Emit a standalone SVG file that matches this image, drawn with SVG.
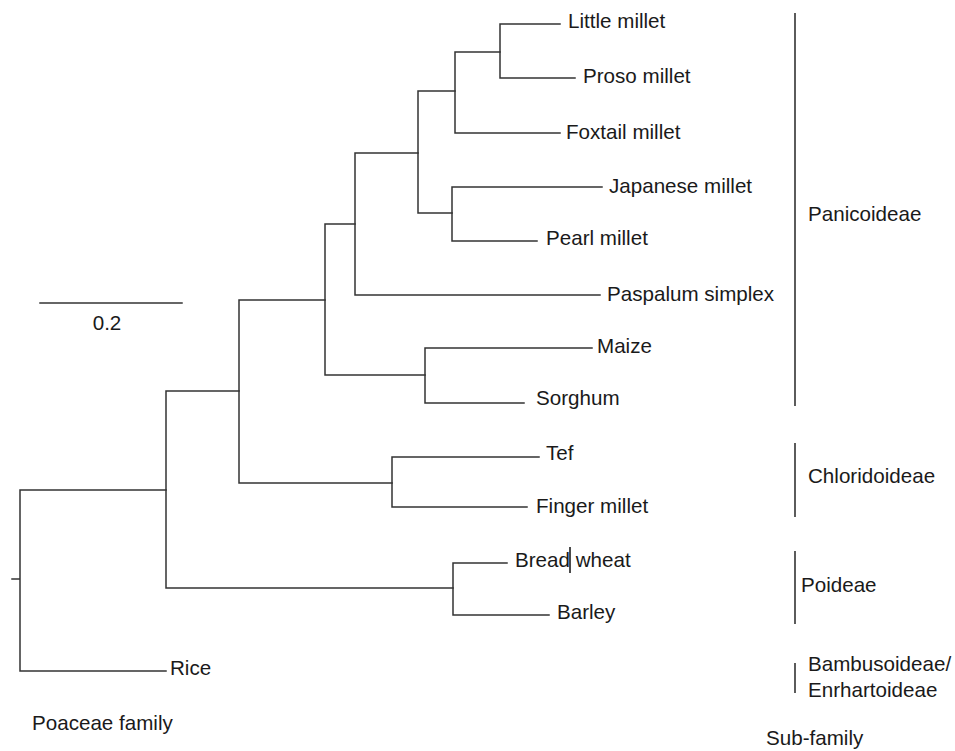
<svg xmlns="http://www.w3.org/2000/svg" width="955" height="751" viewBox="0 0 955 751">
<style>
.e{fill:none;stroke:#333;stroke-width:1.5;stroke-linecap:square}
.b{fill:none;stroke:#333;stroke-width:1.6}
text{font-family:"Liberation Sans",Arial,sans-serif;font-size:20.6px;fill:#1a1a1a}
</style>
<rect width="955" height="751" fill="#fff"/>
<g id="connectors">
<path class="e" d="M12,579H20M166,490H20V671H166"/>
<path class="e" d="M239,391H166V588H453"/>
<path class="e" d="M325,300H239V483H392"/>
<path class="e" d="M355,224H325V375H425"/>
<path class="e" d="M418,153H355V295H600"/>
<path class="e" d="M455,91H418V213H452"/>
<path class="e" d="M500,52H455V133H560"/>
<path class="e" d="M560,24H500V78H575"/>
<path class="e" d="M602,187H452V241H537"/>
<path class="e" d="M592,348H425V403H524"/>
<path class="e" d="M539,457H392V507H527"/>
<path class="e" d="M507,563H453V615H549"/>
</g>
<g id="scale-bar">
<line class="e" x1="40" y1="303" x2="182" y2="303"/>
<text x="107" y="330" text-anchor="middle">0.2</text>
</g>
<g id="little-millet"><text x="568" y="28">Little millet</text></g>
<g id="proso-millet"><text x="583" y="83">Proso millet</text></g>
<g id="foxtail-millet"><text x="566" y="139">Foxtail millet</text></g>
<g id="japanese-millet"><text x="609" y="193">Japanese millet</text></g>
<g id="pearl-millet"><text x="546" y="245">Pearl millet</text></g>
<g id="paspalum-simplex"><text x="607" y="301">Paspalum simplex</text></g>
<g id="maize"><text x="597" y="353">Maize</text></g>
<g id="sorghum"><text x="536" y="405">Sorghum</text></g>
<g id="tef"><text x="546" y="460">Tef</text></g>
<g id="finger-millet"><text x="536" y="513">Finger millet</text></g>
<g id="bread-wheat"><text x="515" y="567">Bread wheat</text><line x1="570" y1="547" x2="570" y2="573" stroke="#111" stroke-width="1.5"/></g>
<g id="barley"><text x="557" y="619">Barley</text></g>
<g id="rice"><text x="170" y="675">Rice</text></g>
<g id="poaceae-family"><text x="32" y="730">Poaceae family</text></g>
<g id="panicoideae"><line class="b" x1="795" y1="13" x2="795" y2="406"/><text x="808" y="221">Panicoideae</text></g>
<g id="chloridoideae"><line class="b" x1="795" y1="443" x2="795" y2="517"/><text x="808" y="483">Chloridoideae</text></g>
<g id="poideae"><line class="b" x1="795" y1="551" x2="795" y2="624"/><text x="801" y="592">Poideae</text></g>
<g id="bambusoideae"><line class="b" x1="795" y1="663" x2="795" y2="693"/><text x="808" y="671">Bambusoideae/</text><text x="808" y="697">Enrhartoideae</text></g>
<g id="sub-family"><text x="766" y="745">Sub-family</text></g>
</svg>
